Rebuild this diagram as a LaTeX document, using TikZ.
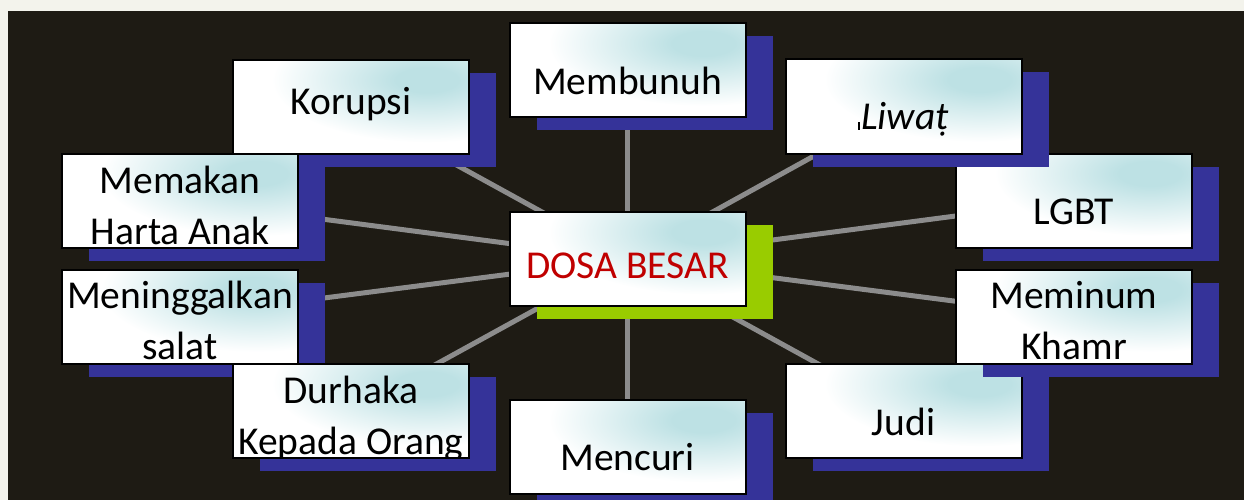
\documentclass[tikz,border=0pt]{standalone}
\usepackage{fontspec}
\setmainfont{Carlito}
\pgfdeclarelayer{back}
\pgfdeclarelayer{lines}
\pgfsetlayers{back,lines,main}
\definecolor{bgdark}{HTML}{1E1B14}
\definecolor{bglight}{HTML}{F3F3EC}
\definecolor{shblue}{HTML}{353399}
\definecolor{shgreen}{HTML}{99CC00}
\definecolor{boxcyan}{HTML}{BDE1E4}
\definecolor{linegray}{HTML}{8C8C8C}
\definecolor{dosared}{HTML}{C00000}
\pgfdeclareradialshading{glowsh}{\pgfpoint{0bp}{0bp}}{color(0bp)=(boxcyan); color(4bp)=(boxcyan); color(20bp)=(white); color(50bp)=(white)}
\tikzset{
  shadowbox/.style={rectangle, draw=none, minimum width=236pt, minimum height=94pt, inner sep=0pt},
  mainbox/.style={rectangle, draw=black, line width=2pt, fill=white, minimum width=236pt, minimum height=94pt, inner sep=0pt},
  txt/.style={draw=none, fill=none, inner sep=0pt, font=\fontsize{39.5}{48}\selectfont, text=black},
  conn/.style={draw=linegray, line width=5pt},
}
\newcommand\tline[3][black]{\node[txt, text=#1, anchor=base] at ([yshift=-#2pt]path picture bounding box.north) {#3};}
\newcommand\glow{\shade[draw=none, shading=glowsh] ([xshift=80pt,yshift=27pt]path picture bounding box.center) ellipse [x radius=190pt, y radius=78pt];}
\newcommand\kotak[5]{%
  \node[shadowbox, fill=#4] (#1s) at (#2+27,#3+13) {};
  \node[mainbox, path picture={\glow #5}] (#1) at (#2,#3) {};
}
\begin{document}
\begin{tikzpicture}[x=1pt, y=-1pt]
\useasboundingbox (0,0) rectangle (1244,500);
\begin{pgfonlayer}{back}
  \fill[bglight] (0,0) rectangle (1244,500);
  \fill[bgdark] (8,11) rectangle (1244,500);
\end{pgfonlayer}
\kotak{mcr}{627.5}{447}{shblue}{\tline{70}{Mencuri}}
\kotak{judi}{903.5}{411}{shblue}{\tline{71}{Judi}}
\kotak{mnm}{1074}{316.5}{shblue}{\tline{38.5}{Meminum}\tline{89.5}{Khamr}}
\kotak{lgbt}{1074}{200.5}{shblue}{\tline{70.5}{LGBT}}
\kotak{liw}{903.5}{106.5}{shblue}{\tline{70.5}{\itshape\rule{1.6pt}{8pt}\kern1.5pt Liwaṭ}}
\kotak{mbn}{627.5}{70.5}{shblue}{\tline{71.5}{Membunuh}}
\kotak{kor}{351}{107}{shblue}{\tline{55}{Korupsi}}
\kotak{mem}{180}{200.5}{shblue}{\tline{39.5}{Memakan}\tline{90.5}{Harta Anak}}
\kotak{men}{180}{316.5}{shblue}{\tline{38.5}{Meninggalkan}\tline{89.5}{salat}}
\kotak{dur}{351}{411}{shblue}{\tline{39}{Durhaka}\tline{90}{Kepada Orang}}
\kotak{dosa}{627.5}{259}{shgreen}{\tline[dosared]{66}{DOSA BESAR}}
\begin{pgfonlayer}{lines}
  \foreach \n in {kor,mbn,liw,mem,lgbt,men,mnm,dur,mcr,judi}
    \draw[conn] (dosa.center) -- (\n.center);
\end{pgfonlayer}
\end{tikzpicture}
\end{document}
